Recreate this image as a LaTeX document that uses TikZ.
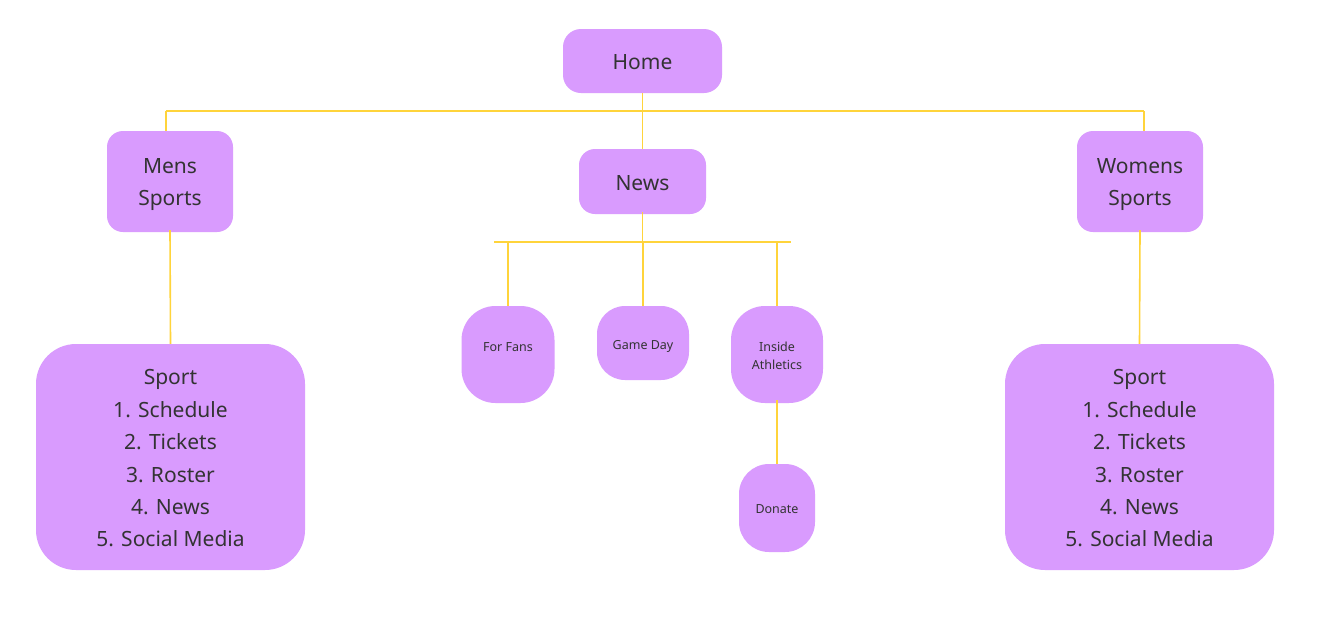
\documentclass[tikz,border=0pt]{standalone}
\usepackage{fontspec}
\setmainfont{Noto Sans}
\definecolor{boxfill}{RGB}{217,155,254}
\definecolor{linky}{RGB}{255,212,59}
\definecolor{txt}{RGB}{51,51,51}
% push text down by #1/2
\newcommand{\pdn}[2]{\raisebox{0pt}[\dimexpr\height+#1\relax][\depth]{#2}}
% push text up by #1/2
\newcommand{\pup}[2]{\raisebox{0pt}[\height][\dimexpr\depth+#1\relax]{#2}}
\newcommand{\stk}[1]{\begin{tabular}{@{}c@{}}#1\end{tabular}}
\begin{document}
\begin{tikzpicture}[x=1pt,y=-1pt,
  pbox/.style={fill=boxfill, draw=none, text=txt, align=center, inner sep=0pt, font=\fontsize{21}{32}\selectfont},
  sbox/.style={pbox, font=\fontsize{12.5}{17.6}\selectfont},
  conn/.style={draw=linky, line width=1.6pt}]
\useasboundingbox (0,0) rectangle (1320,630);
\fill[white] (0,0) rectangle (1320,630);
% nodes
\node[pbox, minimum width=159pt, minimum height=64pt, rounded corners=18pt] (home) at (642.5,61) {\pdn{3pt}{Home}};
\node[pbox, minimum width=126pt, minimum height=101pt, rounded corners=16pt] (mens) at (170,181.5) {\pdn{4pt}{\stk{Mens\\Sports}}};
\node[pbox, minimum width=126pt, minimum height=101pt, rounded corners=16pt] (womens) at (1140,181.5) {\pdn{4pt}{\stk{Womens\\Sports}}};
\node[pbox, minimum width=127pt, minimum height=65pt, rounded corners=16pt] (news) at (642.5,181.5) {\pdn{3.4pt}{News}};
\node[pbox, minimum width=269pt, minimum height=226pt, rounded corners=40pt, font=\fontsize{21}{32.4}\selectfont] (msport) at (170.5,457) {\pdn{5pt}{\stk{Sport\\1. Schedule\\2. Tickets\\3. Roster\\4. News\\5. Social Media}}};
\node[pbox, minimum width=269pt, minimum height=226pt, rounded corners=40pt, font=\fontsize{21}{32.4}\selectfont] (wsport) at (1139.5,457) {\pdn{5pt}{\stk{Sport\\1. Schedule\\2. Tickets\\3. Roster\\4. News\\5. Social Media}}};
\node[sbox, minimum width=93pt, minimum height=97pt, rounded corners=34pt] (fans) at (508,354.5) {\pup{14.6pt}{For Fans}};
\node[sbox, minimum width=92pt, minimum height=74pt, rounded corners=28pt] (gameday) at (643,343) {\pdn{6.6pt}{Game Day}};
\node[sbox, minimum width=92pt, minimum height=97pt, rounded corners=34pt] (inside) at (777,354.5) {\pdn{5pt}{\stk{Inside\\Athletics}}};
\node[sbox, minimum width=76pt, minimum height=88pt, rounded corners=30pt] (donate) at (777,508) {\pdn{1.6pt}{Donate}};
% junction coordinates
\coordinate (hl) at (166,111);
\coordinate (hr) at (1144,111);
\coordinate (nl) at (494,242);
\coordinate (nr) at (791,242);
\coordinate (nc) at (642.5,242);
% connectors
\draw[conn] (hl) -- (hr);
\draw[conn] (home.south) -- (news.north);
\draw[conn] (hl) -- (hl |- mens.north);
\draw[conn] (hr) -- (hr |- womens.north);
\draw[conn] ([yshift=2pt]mens.south) -- (msport.north);
\draw[conn] ([yshift=2pt]womens.south) -- (wsport.north);
\draw[conn] (nl) -- (nr);
\draw[conn] ([yshift=2pt]news.south) -- (nc);
\draw[conn] (fans.north |- nl) -- (fans.north);
\draw[conn] (gameday.north |- nl) -- (gameday.north);
\draw[conn] (inside.north |- nl) -- (inside.north);
\draw[conn] ([yshift=3pt]inside.south) -- (donate.north);
\end{tikzpicture}
\end{document}
